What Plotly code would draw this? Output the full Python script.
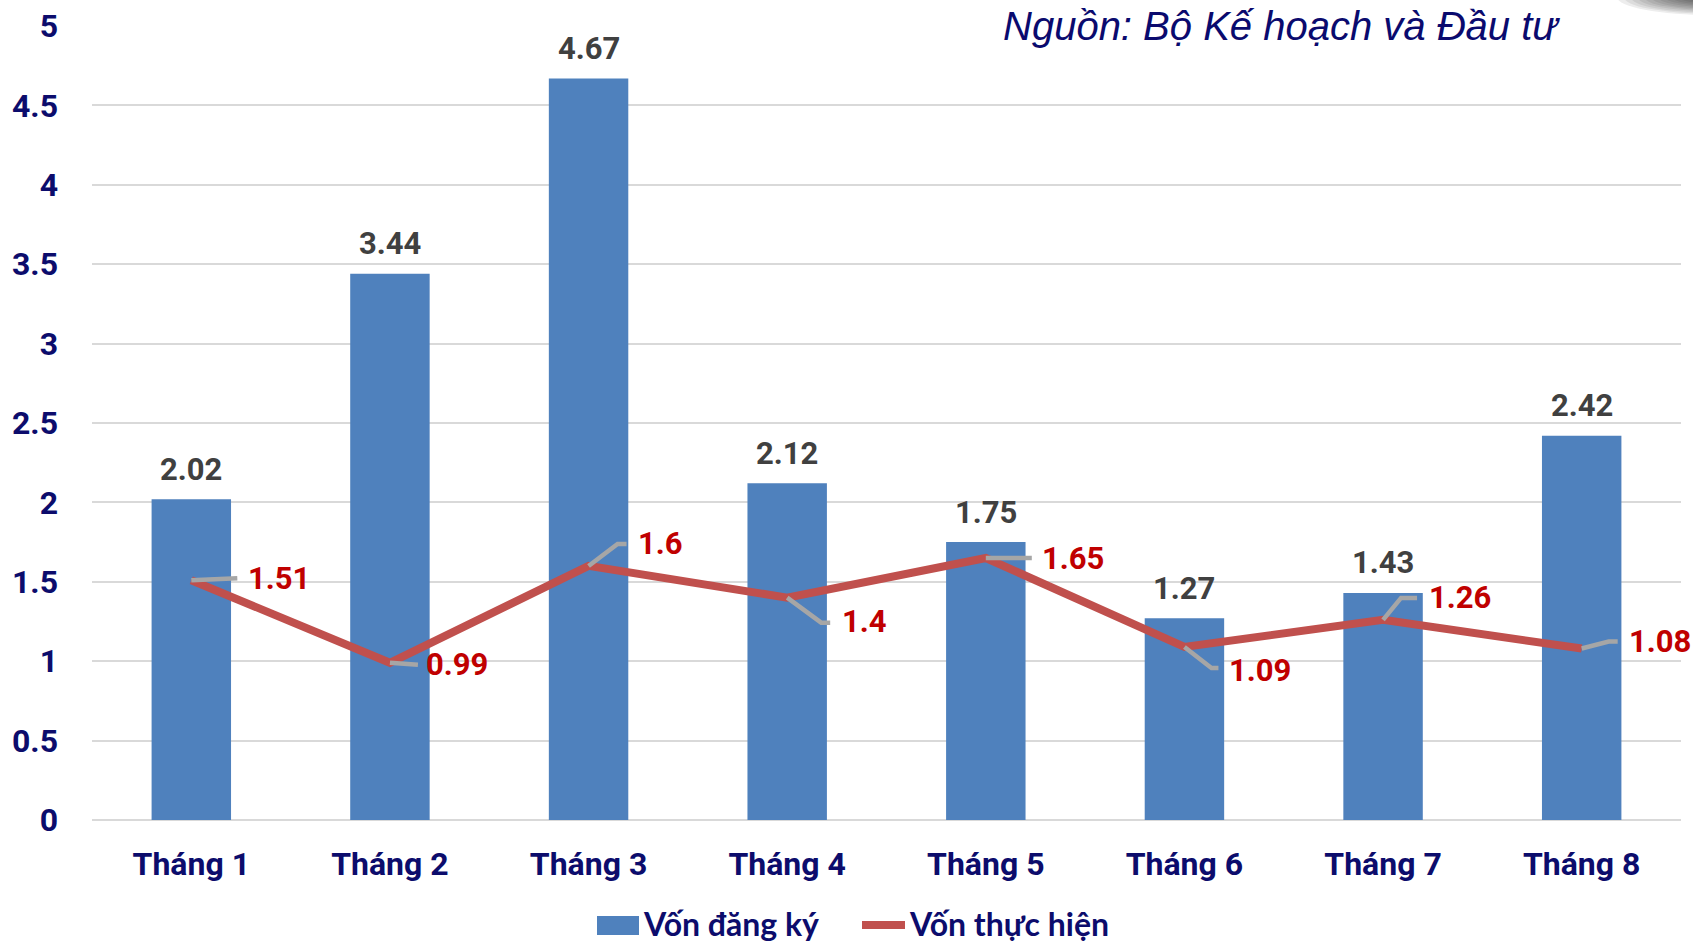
import plotly.graph_objects as go

# Monthly FDI figures (billion USD)
months = ["Tháng 1", "Tháng 2", "Tháng 3", "Tháng 4", "Tháng 5", "Tháng 6", "Tháng 7", "Tháng 8"]
registered = [2.02, 3.44, 4.67, 2.12, 1.75, 1.27, 1.43, 2.42]
disbursed = [1.51, 0.99, 1.6, 1.4, 1.65, 1.09, 1.26, 1.08]
y_ticks = [0, 0.5, 1, 1.5, 2, 2.5, 3, 3.5, 4, 4.5, 5]

source_text = "Nguồn: Bộ Kế hoạch và Đầu tư"
legend_names = ["Vốn đăng ký", "Vốn thực hiện"]

# Styling
W, H = 1693, 945
M_L, M_R, M_T, M_B = 92, 12, 26, 125
NAVY = "#0c0c6c"
BAR_BLUE = "#4f81bd"
LINE_RED = "#c0504d"
LABEL_RED = "#c00000"
LABEL_GREY = "#404040"
LEADER_GREY = "#a6a6a6"
GRID = "#d9d9d9"
NUM_FONT = "Roboto"

# Pixel offsets of the red value labels and their leader lines (up is positive)
label_offsets = [(55, 2), (34, -2), (47, 22), (53, -24), (54, -1), (43, -24), (44, 22), (45, 7)]
leader_paths = [
    [(46, 2)],
    [(28, -2)],
    [(29, 22), (38, 22)],
    [(34, -25), (43, -25)],
    [(46, 0)],
    [(27, -21), (34, -21)],
    [(18, 22), (34, 22)],
    [(27, 7), (36, 7)],
]

xs = list(range(len(months)))
plot_w = W - M_L - M_R
plot_h = H - M_T - M_B


def px_x(px):
    return (px - M_L) / plot_w


def px_y(py):
    return (H - M_B - py) / plot_h


fig = go.Figure()

fig.add_trace(go.Bar(
    x=xs, y=registered, width=0.40,
    marker=dict(color=BAR_BLUE, line=dict(width=0)),
    name=legend_names[0], showlegend=False, hoverinfo="skip",
))

fig.add_trace(go.Scatter(
    x=xs, y=disbursed, mode="lines",
    line=dict(color=LINE_RED, width=8),
    name=legend_names[1], showlegend=False, hoverinfo="skip",
))

annotations = []
shapes = []

# Values above the bars
for x, v in zip(xs, registered):
    annotations.append(dict(
        x=x, y=v, xref="x", yref="y", text=f"{v:g}", showarrow=False,
        xanchor="center", yanchor="middle", yshift=30,
        font=dict(family=NUM_FONT, size=31, color=LABEL_GREY, weight="bold"),
    ))

# Values of the line with grey leader lines
for x, v, (dx, dy), path in zip(xs, disbursed, label_offsets, leader_paths):
    d = "M0,0 " + " ".join(f"L{px},{py}" for px, py in path)
    shapes.append(dict(
        type="path", xref="x", yref="y", xsizemode="pixel", ysizemode="pixel",
        xanchor=x, yanchor=v, path=d,
        line=dict(color=LEADER_GREY, width=4.5), layer="above",
    ))
    annotations.append(dict(
        x=x, y=v, xref="x", yref="y", text=f"{v:g}", showarrow=False,
        xanchor="left", yanchor="middle", xshift=dx, yshift=dy,
        font=dict(family=NUM_FONT, size=31, color=LABEL_RED, weight="bold"),
    ))

# Source note
annotations.append(dict(
    x=px_x(1562), y=px_y(26), xref="paper", yref="paper", text=source_text,
    showarrow=False, xanchor="right", yanchor="middle",
    font=dict(family="Liberation Sans", size=40, color="#0a0a6e", style="italic"),
))

# Legend
shapes.append(dict(
    type="rect", xref="paper", yref="paper",
    x0=px_x(597), x1=px_x(639), y0=px_y(935), y1=px_y(916),
    fillcolor=BAR_BLUE, line=dict(width=0),
))
annotations.append(dict(
    x=px_x(641), y=px_y(923), xref="paper", yref="paper", text=legend_names[0],
    showarrow=False, xanchor="left", yanchor="middle",
    font=dict(family="Lato", size=32, color=NAVY, weight="bold"),
))
shapes.append(dict(
    type="path", xref="paper", yref="paper",
    path=f"M{px_x(862)},{px_y(925)} L{px_x(905)},{px_y(925)}",
    line=dict(color=LINE_RED, width=8),
))
annotations.append(dict(
    x=px_x(907), y=px_y(923), xref="paper", yref="paper", text=legend_names[1],
    showarrow=False, xanchor="left", yanchor="middle",
    font=dict(family="Lato", size=32, color=NAVY, weight="bold"),
))

# Soft shadow in the top-right corner
n_layers = 14
for i in range(n_layers):
    f = 1 - i / n_layers
    rx, ry = 95 * f, 18 * f
    cx, cy = 1712, -3
    shapes.append(dict(
        type="circle", xref="paper", yref="paper",
        x0=px_x(cx - rx), x1=px_x(cx + rx), y0=px_y(cy + ry), y1=px_y(cy - ry),
        fillcolor="rgba(0,0,0,0.07)", line=dict(width=0), layer="above",
    ))

fig.update_layout(
    width=W, height=H,
    margin=dict(l=M_L, r=M_R, t=M_T, b=M_B),
    paper_bgcolor="white", plot_bgcolor="white",
    showlegend=False,
    annotations=annotations,
    shapes=shapes,
    xaxis=dict(
        range=[-0.5, len(months) - 0.5], tickvals=xs, ticktext=months,
        showgrid=False, zeroline=False, showline=False, automargin=False,
        ticks="", ticklabelstandoff=22,
        tickfont=dict(family=NUM_FONT, size=32, color=NAVY, weight="bold"),
    ),
    yaxis=dict(
        range=[0, 5], tickvals=y_ticks, ticktext=[f"{t:g}" for t in y_ticks],
        showgrid=True, gridcolor=GRID, gridwidth=1.5,
        zeroline=True, zerolinecolor=GRID, zerolinewidth=1.5,
        showline=False, automargin=False, ticks="", ticklabelstandoff=33,
        tickfont=dict(family=NUM_FONT, size=32, color=NAVY, weight="bold"),
    ),
)

fig.write_html("out.html")
